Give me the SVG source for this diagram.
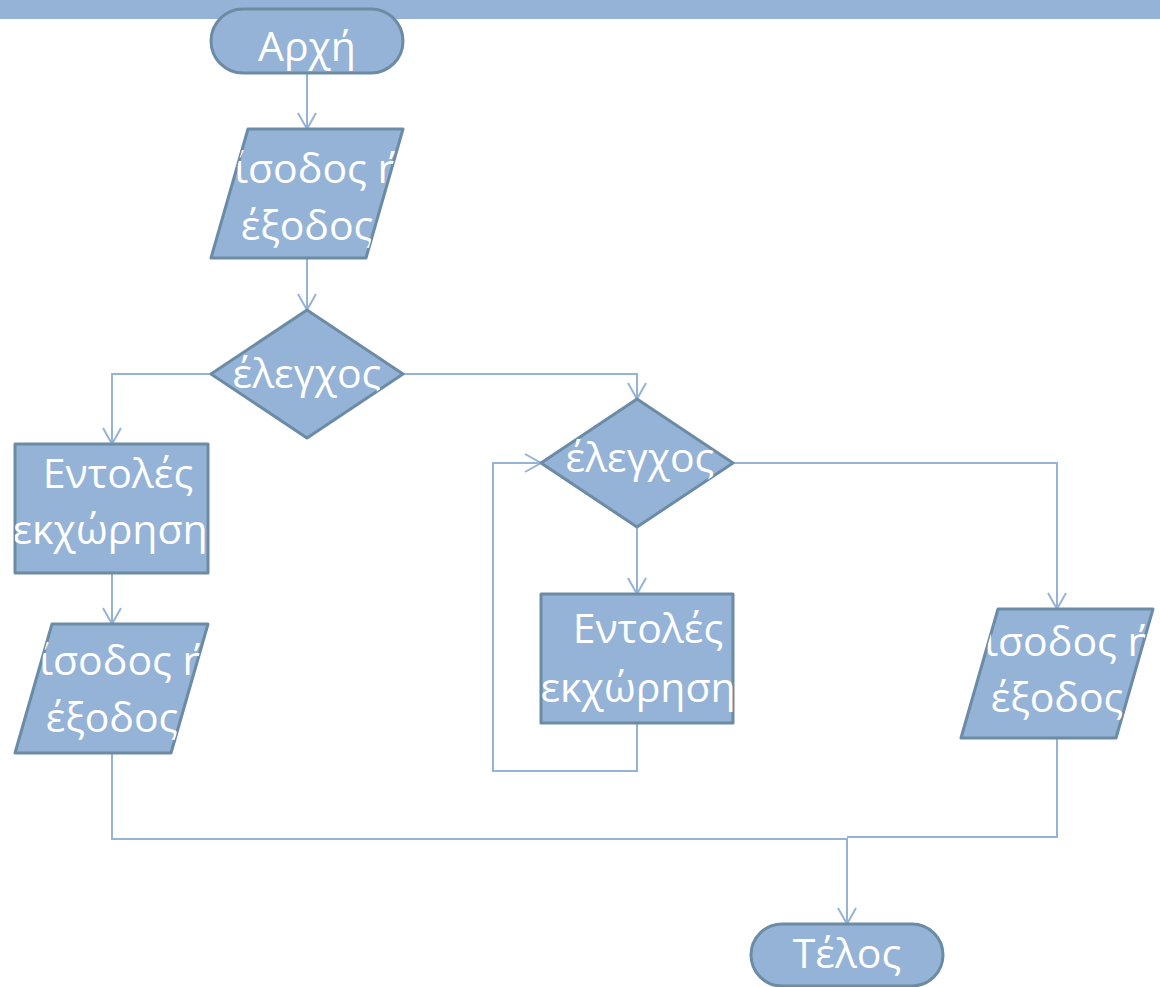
<svg xmlns="http://www.w3.org/2000/svg" width="1160" height="987" viewBox="0 0 1160 987">
<style>
.shape{fill:#95B3D7;stroke:#6C8BA4;stroke-width:3;stroke-linejoin:round}
.lbl{font-family:"Open Sans","Noto Sans","DejaVu Sans",sans-serif;font-size:41px;fill:#FFFFFF;text-anchor:middle}
.conn{fill:none;stroke:#95B3D7;stroke-width:2}
</style>
<defs>
<marker id="arr" markerUnits="userSpaceOnUse" markerWidth="24" markerHeight="24" viewBox="-18 -12 20 24" refX="0" refY="0" orient="auto">
<path d="M-16,-9 L0,0 L-16,9" fill="none" stroke="#95B3D7" stroke-width="2"/>
</marker>
<clipPath id="cPara1"><polygon points="248,129 403,129 366,258 211,258"/></clipPath>
<clipPath id="cParaL"><polygon points="52,624 208,624 171,753 15,753"/></clipPath>
<clipPath id="cParaR"><polygon points="998,609 1153,609 1116,738 961,738"/></clipPath>
<clipPath id="cDia1"><polygon points="211,374 307,310 403,374 307,438"/></clipPath>
<clipPath id="cDia2"><polygon points="541,463 637,399 733,463 637,527"/></clipPath>
<clipPath id="cRectL"><rect x="15" y="444" width="193" height="129"/></clipPath>
<clipPath id="cRectM"><rect x="541" y="594" width="192" height="129"/></clipPath>
</defs>
<rect x="0" y="0" width="1160" height="19" fill="#95B3D7"/>
<g id="connectors">
<path class="conn" d="M307,73 V129" marker-end="url(#arr)"/>
<path class="conn" d="M307,258 V310" marker-end="url(#arr)"/>
<path class="conn" d="M211,374 H112 V444" marker-end="url(#arr)"/>
<path class="conn" d="M403,374 H637 V399" marker-end="url(#arr)"/>
<path class="conn" d="M112,573 V624" marker-end="url(#arr)"/>
<path class="conn" d="M637,527 V594" marker-end="url(#arr)"/>
<path class="conn" d="M733,463 H1057 V609" marker-end="url(#arr)"/>
<path class="conn" d="M637,723 V771 H493 V463 H541" marker-end="url(#arr)"/>
<path class="conn" d="M112,753 V839 H847 V924" marker-end="url(#arr)"/>
<path class="conn" d="M1057,738 V837 H847"/>
</g>
<g id="start">
<rect class="shape" x="211" y="9" width="192" height="64" rx="32" ry="32"/>
<text class="lbl" x="307" y="61">Αρχή</text>
</g>
<g id="io1">
<polygon class="shape" points="248,129 403,129 366,258 211,258"/>
<g clip-path="url(#cPara1)">
<text class="lbl" x="307" y="183">Είσοδος ή</text>
<text class="lbl" x="307" y="240">έξοδος</text>
</g>
</g>
<g id="decision1">
<polygon class="shape" points="211,374 307,310 403,374 307,438"/>
<text class="lbl" x="307" y="388" clip-path="url(#cDia1)">έλεγχος</text>
</g>
<g id="assignLeft">
<rect class="shape" x="15" y="444" width="193" height="129"/>
<g clip-path="url(#cRectL)">
<text class="lbl" x="118" y="488">Εντολές</text>
<text class="lbl" x="120" y="544">εκχώρησης</text>
</g>
</g>
<g id="ioLeft">
<polygon class="shape" points="52,624 208,624 171,753 15,753"/>
<g clip-path="url(#cParaL)">
<text class="lbl" x="112" y="675">Είσοδος ή</text>
<text class="lbl" x="112" y="732">έξοδος</text>
</g>
</g>
<g id="decision2">
<polygon class="shape" points="541,463 637,399 733,463 637,527"/>
<text class="lbl" x="640" y="472" clip-path="url(#cDia2)">έλεγχος</text>
</g>
<g id="assignMid">
<rect class="shape" x="541" y="594" width="192" height="129"/>
<g clip-path="url(#cRectM)">
<text class="lbl" x="648" y="643">Εντολές</text>
<text class="lbl" x="648" y="702">εκχώρησης</text>
</g>
</g>
<g id="ioRight">
<polygon class="shape" points="998,609 1153,609 1116,738 961,738"/>
<g clip-path="url(#cParaR)">
<text class="lbl" x="1057" y="656">Είσοδος ή</text>
<text class="lbl" x="1057" y="712">έξοδος</text>
</g>
</g>
<g id="end">
<rect class="shape" x="751" y="924" width="192" height="62" rx="31" ry="31"/>
<text class="lbl" x="847" y="968">Τέλος</text>
</g>
</svg>
